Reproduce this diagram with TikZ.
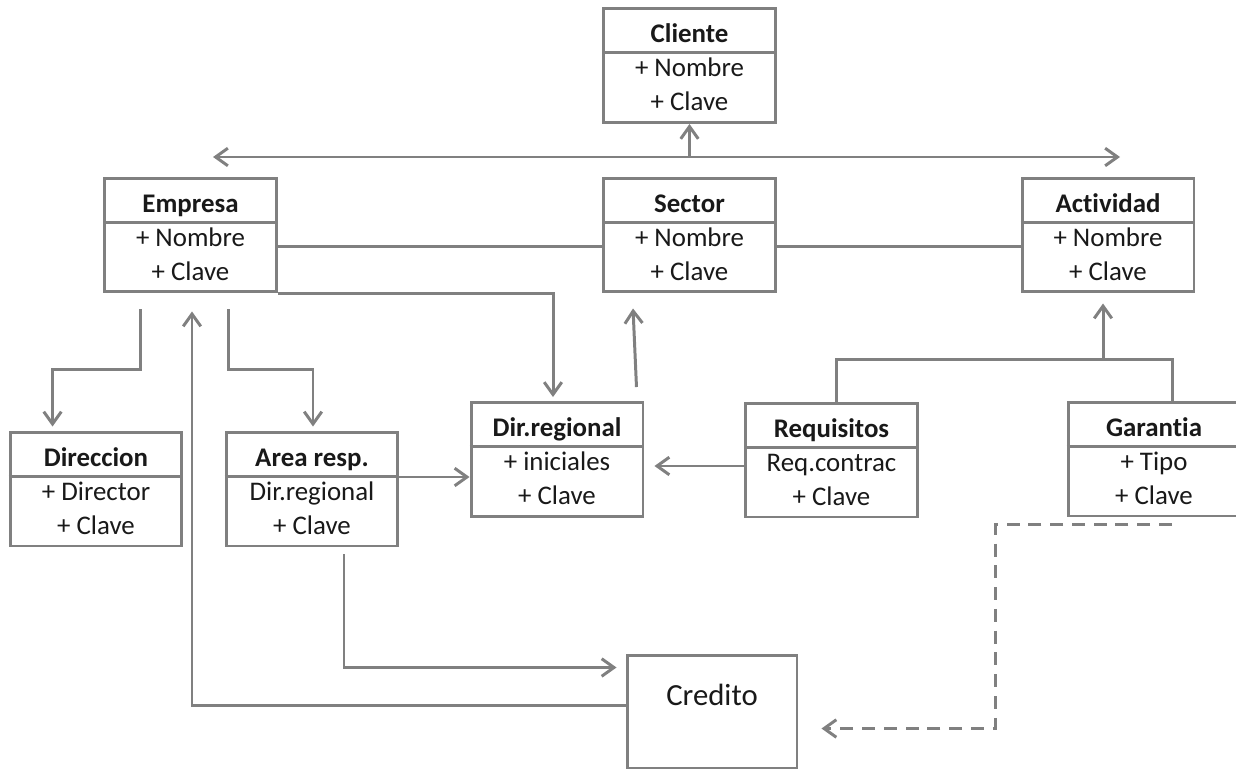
\documentclass[tikz,border=0pt]{standalone}
\usepackage{fontspec}
\setmainfont[Ligatures={NoCommon}]{Carlito}
\usepackage{tikz}
\usetikzlibrary{arrows.meta,calc}
\definecolor{linea}{RGB}{128,128,128}
\definecolor{texto}{RGB}{25,25,25}

\tikzset{
  clase/.style={draw=linea, line width=1.7pt, fill=white,
    minimum width=3.44cm, minimum height=2.28cm, inner sep=0pt},
  separador/.style={draw=linea, line width=1.7pt},
  titulo/.style={anchor=base, inner sep=0pt, text=texto,
    font=\fontsize{15.3}{18}\selectfont\bfseries},
  atributo/.style={anchor=base, inner sep=0pt, text=texto,
    font=\fontsize{15.3}{18}\selectfont},
  conector/.style={draw=linea, line width=1.7pt},
}

% caja de clase: nombre, x, y, titulo, atributo 1, atributo 2
\newcommand{\claseuml}[6]{%
  \node[clase] (#1) at (#2,#3) {};
  \draw[separador] ([yshift=-26pt]#1.north west) -- ([yshift=-26pt]#1.north east);
  \node[titulo] (#1-t) at ([yshift=-20.4pt]#1.north) {#4};
  \node[atributo] (#1-a) at ([yshift=-39.7pt]#1.north) {#5};
  \node[atributo] (#1-b) at ([yshift=-59pt]#1.north) {#6};
}

\begin{document}
\begin{tikzpicture}[x=0.02cm, y=-0.02cm, >={Straight Barb[length=7pt,width=10pt]}]
\useasboundingbox (0,0) rectangle (1236,770);

% Clases
\claseuml{cliente}{689.5}{65.5}{Cliente}{+ Nombre}{+ Clave}
\claseuml{empresa}{190.5}{235}{Empresa}{+ Nombre}{+ Clave}
\claseuml{sector}{689.5}{235}{Sector}{+ Nombre}{+ Clave}
\claseuml{actividad}{1108}{235}{Actividad}{+ Nombre}{+ Clave}
\claseuml{direccion}{96}{489}{Direccion}{+ Director}{+ Clave}
\claseuml{area}{312}{489}{Area resp.}{Dir.regional}{+ Clave}
\claseuml{dirreg}{557}{459.5}{Dir.regional}{+ iniciales}{+ Clave}
\claseuml{requisitos}{831.5}{460}{Requisitos}{Req.contrac}{+ Clave}
\claseuml{garantia}{1154}{459}{Garantia}{+ Tipo}{+ Clave}

% Credito
\node[clase, minimum width=3.4cm, minimum height=2.26cm] (credito) at (712,711.5) {};
\node[atributo, font=\fontsize{17.5}{20}\selectfont] (credito-t)
  at ([yshift=-29.5pt]credito.north) {Credito};

% Flecha doble bajo Cliente
\coordinate (extI) at (213,157);
\coordinate (extD) at (1120,157);
\draw[conector, <->] (extI) -- (extD);
\draw[conector, ->] (cliente.south |- extI) -- (cliente.south);

% Empresa - Sector - Actividad
\draw[conector] ([yshift=-6.8pt]empresa.east) -- ([yshift=-6.8pt]sector.west);
\draw[conector] ([yshift=-6.8pt]sector.east) -- ([yshift=-6.8pt]actividad.west);

% Empresa -> Dir.regional
\draw[conector, ->] (empresa.south east) -| ($(dirreg.north)+(-4,-4)$);

% Dir.regional -> Sector
\draw[conector, ->] ($(dirreg.north east)+(-8,-14)$) -- ($(sector.south west)+(31,15)$);

% Empresa -> Direccion / Area resp.
\draw[conector, ->] ($(empresa.south)+(-50,16)$) -- ++(0,60)
  -| ($(direccion.north west)+(44,-4)$);
\draw[conector, ->] ($(empresa.south)+(38,16)$) -- ++(0,60)
  -| ($(area.north)+(1,-4)$);

% Credito -> Empresa
\draw[conector, ->] ($(credito.west)+(0,-6)$) -| ($(empresa.south)+(1.5,18)$);

% Area resp. -> Credito
\draw[conector, ->] ($(area.south)+(32,7)$) |- ($(credito.west)+(-9,-44)$);

% Area resp. -> Dir.regional
\draw[conector, ->] ($(area.east)+(0,-12)$) coordinate (auxA) -- (auxA -| dirreg.west);

% Requisitos -> Dir.regional
\draw[conector, ->] ($(requisitos.west)+(0,6)$) coordinate (auxR)
  -- ($(auxR -| dirreg.east)+(10,0)$);

% Requisitos y Garantia -> Actividad
\draw[conector] ($(requisitos.north)+(5,0)$) |- ($(actividad.south)+(-5,66)$) coordinate (union)
  -| ($(garantia.north)+(18,0)$);
\draw[conector, ->] (union) -- ($(actividad.south)+(-5,10)$);

% Garantia -> Credito (discontinua)
\draw[conector, ->, dash pattern=on 7.4pt off 5pt]
  ($(garantia.south)+(18,7)$) -- ++(-177,0) |- ($(credito.east)+(23,17)$);

\end{tikzpicture}
\end{document}
